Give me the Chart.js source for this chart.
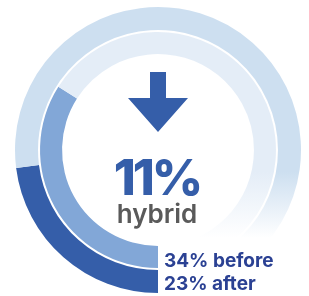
<!DOCTYPE html>
<html>
<head>
<meta charset="utf-8">
<script src="https://cdn.jsdelivr.net/npm/chart.js@4"></script>
<style>
  html, body { margin: 0; padding: 0; background: #ffffff; }
  #wrap { position: relative; width: 309px; height: 296px; }
</style>
</head>
<body>
<div id="wrap"><canvas id="hybridChart" width="309" height="296"></canvas></div>
<script>
// ring values, percent of respondents
const ringLabels = ['hybrid', 'other']
const beforeValues = [34, 66]   // inner ring
const afterValues = [23, 77]    // outer ring
const changeText = '11%'
const centerLabel = 'hybrid'
const legendLines = ['34% before', '23% after']

const darkBlue = '#355ea9'
const midBlue = '#82a7d7'
const outerLight = '#cddff0'
const innerLight = '#e4edf7'

// light part fades out to white near the bottom right
function ringFill(mainColor, restColor) {
    return function(context) {
        if (context.dataIndex === 0) return mainColor
        const { ctx, chartArea } = context.chart
        if (!chartArea) return restColor
        const g = ctx.createLinearGradient(0, 172, 0, 238)
        g.addColorStop(0, restColor)
        g.addColorStop(1, '#ffffff')
        return g
    }
}

const centerPlugin = {
    id: 'centerText',
    afterDraw(chart) {
        const ctx = chart.ctx
        const arc = chart.getDatasetMeta(0).data[0]
        const cx = arc.x
        const cy = arc.y
        ctx.save()

        // down arrow
        ctx.fillStyle = darkBlue
        ctx.beginPath()
        ctx.moveTo(cx - 8, cy - 78)
        ctx.lineTo(cx + 8, cy - 78)
        ctx.lineTo(cx + 8, cy - 52)
        ctx.lineTo(cx + 30, cy - 52)
        ctx.lineTo(cx, cy - 18)
        ctx.lineTo(cx - 30, cy - 52)
        ctx.lineTo(cx - 8, cy - 52)
        ctx.closePath()
        ctx.fill()

        ctx.textAlign = 'center'
        ctx.textBaseline = 'alphabetic'
        ctx.fillStyle = darkBlue
        ctx.font = '800 50px Inter'
        ctx.letterSpacing = '-3px'
        ctx.fillText(changeText, cx - 1, cy + 45)

        ctx.letterSpacing = '0px'
        ctx.fillStyle = '#5a5a5a'
        ctx.font = '600 26px Inter'
        ctx.fillText(centerLabel, cx - 1, cy + 73)

        ctx.textAlign = 'left'
        ctx.fillStyle = '#2b4193'
        ctx.font = '700 19px Inter'
        ctx.fillText(legendLines[0], cx + 6, cy + 117)
        ctx.fillText(legendLines[1], cx + 6, cy + 140)
        ctx.restore()
    }
}

const chart = new Chart(document.getElementById('hybridChart'), {
    type: 'doughnut',
    data: {
        labels: ringLabels,
        datasets: [
            {
                label: 'after',
                data: afterValues,
                backgroundColor: ringFill(darkBlue, outerLight),
                borderWidth: 0,
                weight: 23
            },
            {
                label: 'gap',
                data: [1],
                backgroundColor: 'rgba(255,255,255,0)',
                borderWidth: 0,
                weight: 2
            },
            {
                label: 'before',
                data: beforeValues,
                backgroundColor: ringFill(midBlue, innerLight),
                borderWidth: 0,
                weight: 22
            }
        ]
    },
    options: {
        responsive: false,
        animation: false,
        rotation: 180,
        cutout: '67.1%',
        layout: { padding: { top: 7, bottom: 3, left: 15, right: 8 } },
        plugins: {
            legend: { display: false },
            tooltip: { enabled: false }
        }
    },
    plugins: [centerPlugin]
})
</script>
</body>
</html>
